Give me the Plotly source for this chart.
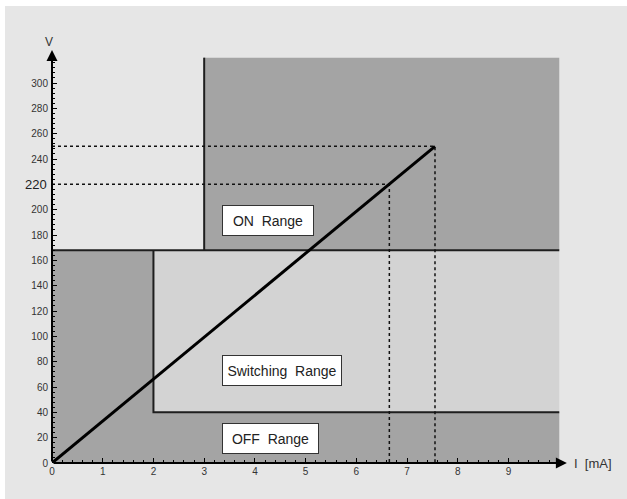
import plotly.graph_objects as go

# ---- data ----
x_tick_vals = [0, 1, 2, 3, 4, 5, 6, 7, 8, 9]
y_tick_vals = [0, 20, 40, 60, 80, 100, 120, 140, 160, 180, 200, 220, 240, 260, 280, 300]
y_tick_text = ["0", "20", "40", "60", "80", "100", "120", "140", "160", "180", "200", "", "240", "260", "280", "300"]

i_max = 10.0          # right end of ranges (mA)
v_max = 320.0         # top of ON range (V)
v_on = 168.0          # ON threshold voltage
v_off = 40.0          # OFF threshold voltage
i_switch = 2.0        # current where switching range starts
i_on = 3.0            # current where ON range starts

char_i = [0.0, 7.55]  # characteristic line (mA)
char_v = [0.0, 250.0] # characteristic line (V)
mark_v = [220.0, 250.0]
mark_i = [6.65, 7.55]

range_labels = ["ON\u00a0\u00a0Range", "Switching\u00a0\u00a0Range", "OFF\u00a0\u00a0Range"]
range_label_v = [191.8, 73.4, 19.5]
range_label_w = [90, 118, 95]

DARK = "#a4a4a4"
LIGHT = "#d3d3d3"
BG = "#e6e6e6"
LINE = "#1e1e1e"

fig = go.Figure()

# OFF range (L-shaped)
fig.add_trace(go.Scatter(
    x=[0, i_max, i_max, i_switch, i_switch, 0, 0],
    y=[0, 0, v_off, v_off, v_on, v_on, 0],
    fill="toself", fillcolor=DARK, mode="none", hoverinfo="skip", showlegend=False))
# Switching range
fig.add_trace(go.Scatter(
    x=[i_switch, i_max, i_max, i_switch, i_switch],
    y=[v_off, v_off, v_on, v_on, v_off],
    fill="toself", fillcolor=LIGHT, mode="none", hoverinfo="skip", showlegend=False))
# ON range
fig.add_trace(go.Scatter(
    x=[i_on, i_max, i_max, i_on, i_on],
    y=[v_on, v_on, v_max, v_max, v_on],
    fill="toself", fillcolor=DARK, mode="none", hoverinfo="skip", showlegend=False))

# boundary lines
bl = dict(color=LINE, width=2)
fig.add_trace(go.Scatter(x=[0, i_max], y=[v_on, v_on], mode="lines", line=bl, hoverinfo="skip", showlegend=False))
fig.add_trace(go.Scatter(x=[i_on, i_on], y=[v_on, v_max], mode="lines", line=bl, hoverinfo="skip", showlegend=False))
fig.add_trace(go.Scatter(x=[i_switch, i_switch, i_max], y=[v_on, v_off, v_off], mode="lines", line=bl, hoverinfo="skip", showlegend=False))

# dotted marker lines
dl = dict(color="#111111", width=1.5, dash="dot")
for vi, ii in zip(mark_v, mark_i):
    fig.add_trace(go.Scatter(x=[0, ii, ii], y=[vi, vi, 0], mode="lines", line=dl, hoverinfo="skip", showlegend=False))

# characteristic line
fig.add_trace(go.Scatter(x=char_i, y=char_v, mode="lines", line=dict(color="#000000", width=3), hoverinfo="skip", showlegend=False))

L, R, T, B = 52, 17, 45, 36
W, H = 627, 499
pw, ph = W - L - R, H - T - B

tickfont = dict(family="Liberation Sans Narrow, Arial Narrow, Liberation Sans, Arial", size=10, color="#333333")

fig.update_layout(
    width=W, height=H,
    margin=dict(l=L, r=R, t=T, b=B, pad=0),
    paper_bgcolor="white",
    plot_bgcolor="rgba(0,0,0,0)",
    font=dict(family="Liberation Sans, Arial", color="#222222"),
    xaxis=dict(range=[0, 11], showgrid=False, zeroline=False, showline=False,
               tickmode="array", tickvals=x_tick_vals, ticks="inside", ticklen=5, tickwidth=1.2, tickcolor="#000",
               tickfont=tickfont, ticklabelstandoff=1,
               minor=dict(tickvals=[round(0.2 * k, 1) for k in range(0, 51)], ticks="inside", ticklen=3, tickwidth=1, tickcolor="#000"),
               fixedrange=True),
    yaxis=dict(range=[0, 330], showgrid=False, zeroline=False, showline=False,
               tickmode="array", tickvals=y_tick_vals, ticktext=y_tick_text, ticks="inside", ticklen=5, tickwidth=1.2, tickcolor="#000",
               tickfont=tickfont, ticklabelstandoff=3,
               minor=dict(tickvals=[4 * k for k in range(0, 81)], ticks="inside", ticklen=3, tickwidth=1, tickcolor="#000"),
               fixedrange=True),
    shapes=[dict(type="rect", xref="paper", yref="paper",
                 x0=(5 - L) / pw, x1=(W + 5 - L) / pw,
                 y0=-(B + 5) / ph, y1=(H - 6 - B) / ph,
                 fillcolor=BG, line=dict(width=0), layer="below")],
)

ann = []
# axes with arrows
ann.append(dict(x=10.15, y=0, ax=0, ay=0, xref="x", yref="y", axref="x", ayref="y",
                text="", showarrow=True, arrowhead=2, arrowsize=1.1, arrowwidth=2, arrowcolor="#000"))
ann.append(dict(x=0, y=326, ax=0, ay=0, xref="x", yref="y", axref="x", ayref="y",
                text="", showarrow=True, arrowhead=2, arrowsize=1.1, arrowwidth=2, arrowcolor="#000"))
# axis titles
ann.append(dict(x=-3 / pw, y=(H - 42 - B) / ph, xref="paper", yref="paper", text="V", showarrow=False,
                font=dict(size=12, color="#333333"), xanchor="center", yanchor="middle"))
ann.append(dict(x=10.25, y=0, xref="x", yref="y", text="I\u00a0\u00a0[mA]", showarrow=False,
                font=dict(size=13, color="#333333"), xanchor="left", yanchor="middle"))
# big 220 label
ann.append(dict(x=-3 / pw, y=220, xref="paper", yref="y", text="220", showarrow=False,
                font=dict(size=13, color="#222222"), xanchor="right", yanchor="middle"))
# range labels
for txt, vv, ww in zip(range_labels, range_label_v, range_label_w):
    ann.append(dict(x=3.35, y=vv, xref="x", yref="y", text=txt, showarrow=False,
                    xanchor="left", yanchor="middle", width=ww, height=29, align="center",
                    bgcolor="white", bordercolor="#333333", borderwidth=1, borderpad=0,
                    font=dict(size=14, color="#222222")))
fig.update_layout(annotations=ann)

fig.write_html("out.html", config={"displayModeBar": False},
               post_script="document.body.style.margin='0';")
